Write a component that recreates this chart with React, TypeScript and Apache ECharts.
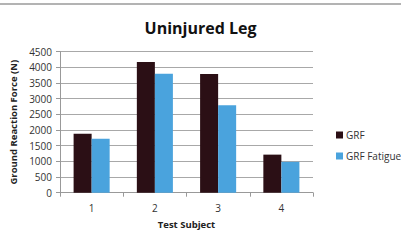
import React, { useEffect, useRef } from "react";
import * as echarts from "echarts";

const categories = ["1", "2", "3", "4"];
const grf = [1880, 4170, 3790, 1215];
const grfFatigue = [1720, 3800, 2790, 985];
const yMin = 0;
const yMax = 4500;
const yInterval = 500;

export default function App() {
  const ref = useRef<HTMLDivElement>(null);
  useEffect(() => {
    document.body.style.margin = "0";
    const chart = echarts.init(ref.current!, null, { renderer: "svg" });
    const font = "Open Sans";
    chart.setOption({
      animation: false,
      backgroundColor: "#ffffff",
      title: {
        text: "Uninjured Leg",
        left: "center",
        top: 15,
        textStyle: { fontFamily: font, fontWeight: "bold", fontSize: 16, color: "#111" },
      },
      graphic: [
        {
          type: "line",
          shape: { x1: 0, y1: 4, x2: 401, y2: 4 },
          style: { stroke: "#9a9a9a", lineWidth: 1.5 },
        },
      ],
      legend: {
        orient: "vertical",
        left: 331,
        top: 125,
        itemWidth: 7,
        itemHeight: 7,
        itemGap: 11,
        icon: "rect",
        textStyle: { fontFamily: font, fontSize: 10, color: "#333", padding: [0, 0, 0, -2] },
        data: ["GRF", "GRF Fatigue"],
      },
      grid: { left: 58, right: 88, top: 51.7, bottom: 48.3 },
      xAxis: {
        type: "category",
        data: categories,
        name: "Test Subject",
        nameLocation: "middle",
        nameGap: 27,
        nameTextStyle: { fontFamily: font, fontWeight: "bold", fontSize: 9.5, color: "#222" },
        axisLine: { lineStyle: { color: "#999" } },
        axisTick: { show: true, length: 4, lineStyle: { color: "#999" } },
        axisLabel: { fontFamily: font, fontSize: 10, color: "#333", margin: 10 },
      },
      yAxis: {
        type: "value",
        min: yMin,
        max: yMax,
        interval: yInterval,
        name: "Ground Reaction Force (N)",
        nameLocation: "middle",
        nameGap: 42,
        nameTextStyle: { fontFamily: font, fontWeight: "bold", fontSize: 9.5, color: "#222" },
        axisLine: { show: true, lineStyle: { color: "#999" } },
        axisTick: { show: true, length: 4, lineStyle: { color: "#999" } },
        axisLabel: {
          fontFamily: font,
          fontSize: 10,
          color: "#333",
          margin: 8,
          formatter: (v: number) => String(v),
        },
        splitLine: { lineStyle: { color: "#a8a8a8" } },
      },
      series: [
        {
          name: "GRF",
          type: "bar",
          data: grf,
          barGap: "0%",
          barCategoryGap: "43%",
          itemStyle: { color: "#2b0f15" },
        },
        {
          name: "GRF Fatigue",
          type: "bar",
          data: grfFatigue,
          itemStyle: { color: "#4aa3dd" },
        },
      ],
    });
    return () => chart.dispose();
  }, []);
  return <div ref={ref} style={{ position: "absolute", left: 0, top: 0, width: 401, height: 241 }} />;
}
